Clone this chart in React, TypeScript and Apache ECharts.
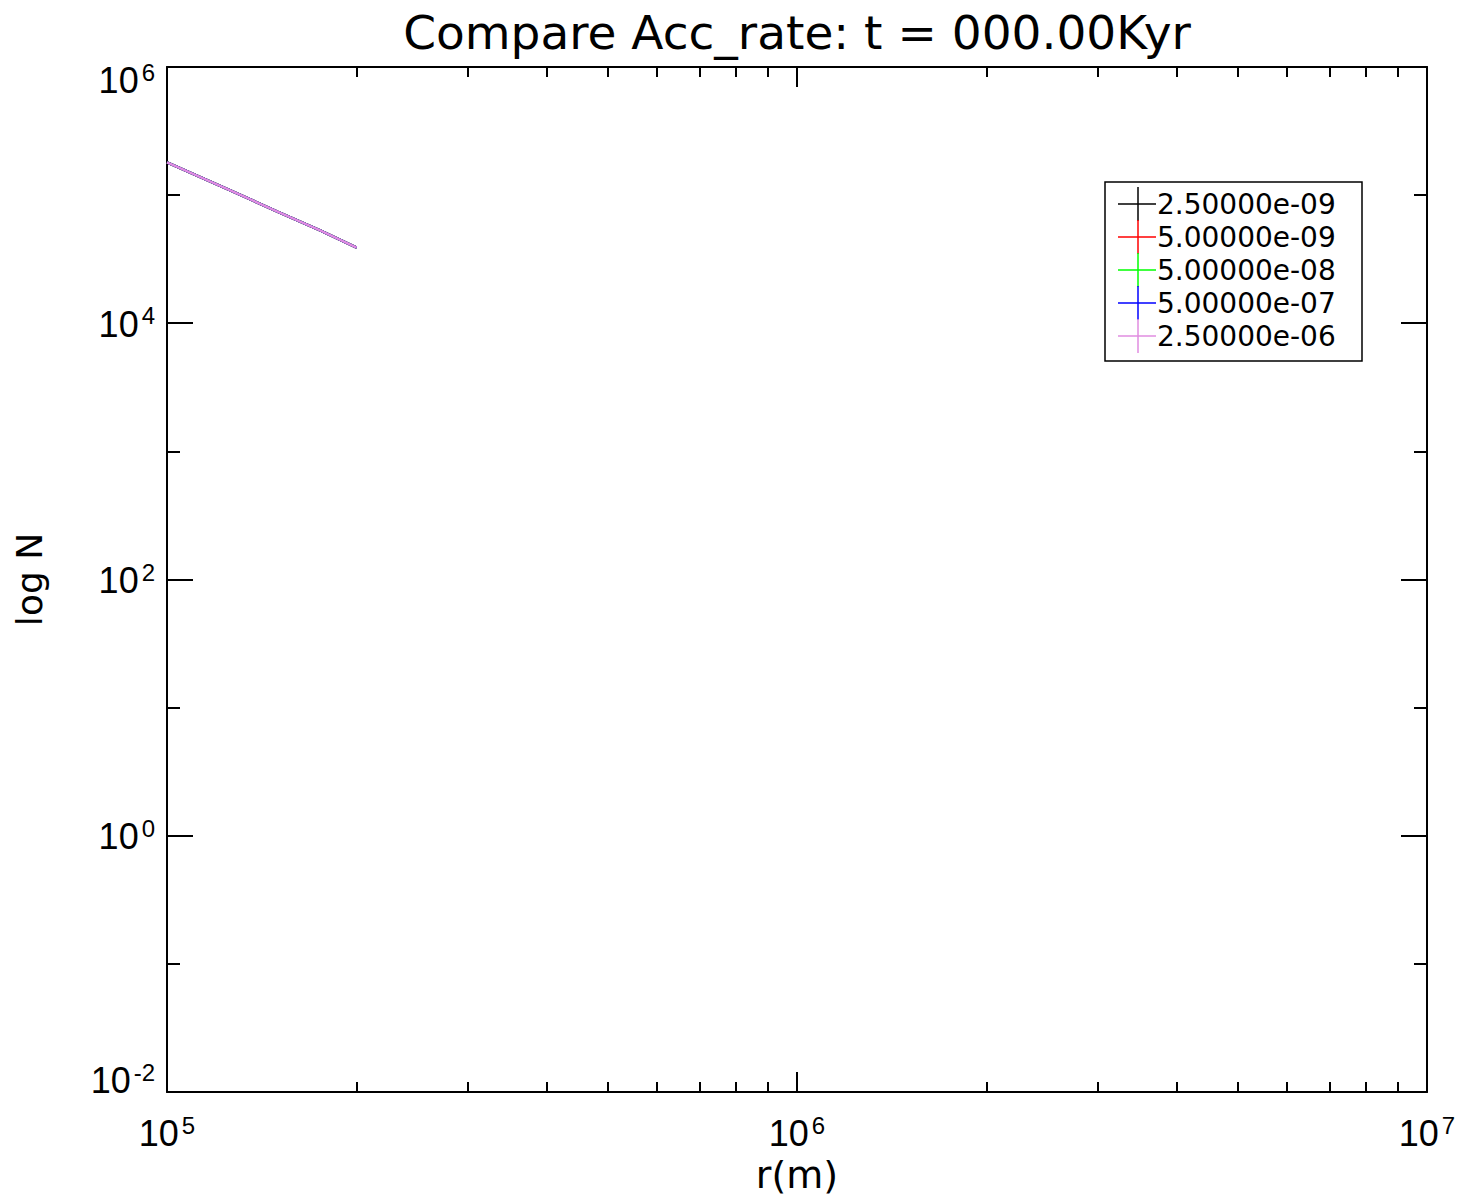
import React, { useEffect, useRef } from "react";
import * as echarts from "echarts";

const titleText = "Compare Acc_rate: t = 000.00Kyr";
const xName = "r(m)";
const yName = "log N";
const seriesNames = ["2.50000e-09", "5.00000e-09", "5.00000e-08", "5.00000e-07", "2.50000e-06"];
const seriesColors = ["#000000", "#ff0000", "#00ff00", "#0000ff", "#e08ce0"];
const rValues = [1.0e5, 1.25e5, 1.5e5, 1.75e5, 2.0e5];
const nAcc1 = [1.8e5, 1.11e5, 7.4e4, 5.3e4, 3.9e4];
const nAcc2 = [1.8e5, 1.11e5, 7.4e4, 5.3e4, 3.9e4];
const nAcc3 = [1.8e5, 1.11e5, 7.4e4, 5.3e4, 3.9e4];
const nAcc4 = [1.8e5, 1.11e5, 7.4e4, 5.3e4, 3.9e4];
const nAcc5 = [1.8e5, 1.11e5, 7.4e4, 5.3e4, 3.9e4];
const seriesValues = [nAcc1, nAcc2, nAcc3, nAcc4, nAcc5];
const xMin = 1e5;
const xMax = 1e7;
const yMin = 1e-2;
const yMax = 1e6;

const tickFont = "Liberation Sans";
const textFont = "DejaVu Sans";

const rich = {
  b: { fontFamily: tickFont, fontSize: 36, color: "#000", lineHeight: 41 },
  s: { fontFamily: tickFont, fontSize: 24, color: "#000", verticalAlign: "top", padding: [0, 0, 0, 3] },
};

const powLabel = (v: number) => {
  const e = Math.round(Math.log10(v));
  return `{b|10}{s|${e}}`;
};

export default function App() {
  const ref = useRef<HTMLDivElement>(null);
  useEffect(() => {
    if (!ref.current) return;
    const chart = echarts.init(ref.current, null, { renderer: "svg" });
    const axisLine = { show: true, lineStyle: { color: "#000", width: 2 } };
    const left = 167, top = 67, right = 1427, bottom = 1092;

    const legendX = 1105, legendY = 182, legendW = 257, legendH = 179;
    const rowY0 = 204, rowStep = 33;
    const graphicEls: any[] = [
      {
        type: "text",
        x: (left + right) / 2,
        y: 32,
        style: {
          text: titleText,
          font: `47px '${textFont}'`,
          fill: "#000",
          align: "center",
          verticalAlign: "middle",
        },
      },
      {
        type: "rect",
        shape: { x: legendX, y: legendY, width: legendW, height: legendH },
        style: { fill: "#fff", stroke: "#000", lineWidth: 1.5 },
        z: 10,
      },
    ];
    seriesNames.forEach((name, i) => {
      const cy = rowY0 + i * rowStep;
      graphicEls.push(
        { type: "line", shape: { x1: 1118, y1: cy, x2: 1156, y2: cy }, style: { stroke: seriesColors[i], lineWidth: 1.5 }, z: 11 },
        { type: "line", shape: { x1: 1138, y1: cy - 17, x2: 1138, y2: cy + 17 }, style: { stroke: seriesColors[i], lineWidth: 1.5 }, z: 11 },
        {
          type: "text",
          x: 1157,
          y: cy,
          style: { text: name, font: `28px '${textFont}'`, fill: "#000", verticalAlign: "middle", align: "left" },
          z: 12,
        }
      );
    });

    chart.setOption({
      animation: false,
      backgroundColor: "#fff",
      grid: { left, top, width: right - left, height: bottom - top, containLabel: false },
      xAxis: [
        {
          type: "log",
          logBase: 10,
          min: xMin,
          max: xMax,
          interval: 1,
          position: "bottom",
          name: xName,
          nameLocation: "middle",
          nameGap: 56,
          nameTextStyle: { fontFamily: textFont, fontSize: 38, color: "#000", verticalAlign: "top" },
          axisLine,
          axisTick: { show: true, inside: true, length: 20, lineStyle: { color: "#000", width: 2 } },
          minorTick: { show: true, splitNumber: 9, length: 10, lineStyle: { color: "#000", width: 2 } },
          axisLabel: { show: true, margin: 21, formatter: powLabel, rich },
          splitLine: { show: false },
        },
        {
          type: "log",
          logBase: 10,
          min: xMin,
          max: xMax,
          interval: 1,
          position: "top",
          axisLine,
          axisTick: { show: true, inside: true, length: 20, lineStyle: { color: "#000", width: 2 } },
          minorTick: { show: true, splitNumber: 9, length: 10, lineStyle: { color: "#000", width: 2 } },
          axisLabel: { show: false },
          splitLine: { show: false },
        },
      ],
      yAxis: [
        {
          type: "log",
          logBase: 10,
          min: yMin,
          max: yMax,
          interval: 2,
          position: "left",
          name: yName,
          nameLocation: "middle",
          nameGap: 120,
          nameRotate: 90,
          nameTextStyle: { fontFamily: textFont, fontSize: 36, color: "#000" },
          axisLine,
          axisTick: { show: true, inside: true, length: 26, lineStyle: { color: "#000", width: 2 } },
          axisLabel: {
            show: true,
            margin: 12,
            formatter: powLabel,
            rich,
            padding: [-7, 0, -9, 0],
            verticalAlignMaxLabel: "top",
            verticalAlignMinLabel: "bottom",
          },
          splitLine: { show: false },
        },
        {
          type: "log",
          logBase: 10,
          min: yMin,
          max: yMax,
          interval: 1,
          position: "left",
          axisLine: { show: false },
          axisTick: { show: true, inside: true, length: 13, lineStyle: { color: "#000", width: 2 } },
          axisLabel: { show: false },
          splitLine: { show: false },
        },
        {
          type: "log",
          logBase: 10,
          min: yMin,
          max: yMax,
          interval: 2,
          position: "right",
          axisLine,
          axisTick: { show: true, inside: true, length: 26, lineStyle: { color: "#000", width: 2 } },
          axisLabel: { show: false },
          splitLine: { show: false },
        },
        {
          type: "log",
          logBase: 10,
          min: yMin,
          max: yMax,
          interval: 1,
          position: "right",
          axisLine: { show: false },
          axisTick: { show: true, inside: true, length: 13, lineStyle: { color: "#000", width: 2 } },
          axisLabel: { show: false },
          splitLine: { show: false },
        },
      ],
      series: seriesNames.map((name, i) => ({
        name,
        type: "line",
        xAxisIndex: 0,
        yAxisIndex: 0,
        showSymbol: false,
        symbol: "none",
        lineStyle: { color: seriesColors[i], width: 2.5 },
        data: rValues.map((r, j) => [r, seriesValues[i][j]]),
        z: 2 + i,
      })),
      graphic: graphicEls,
    });
    return () => chart.dispose();
  }, []);
  return (
    <div
      ref={ref}
      style={{ position: "fixed", left: 0, top: 0, width: 1463, height: 1203, background: "#fff" }}
    />
  );
}
